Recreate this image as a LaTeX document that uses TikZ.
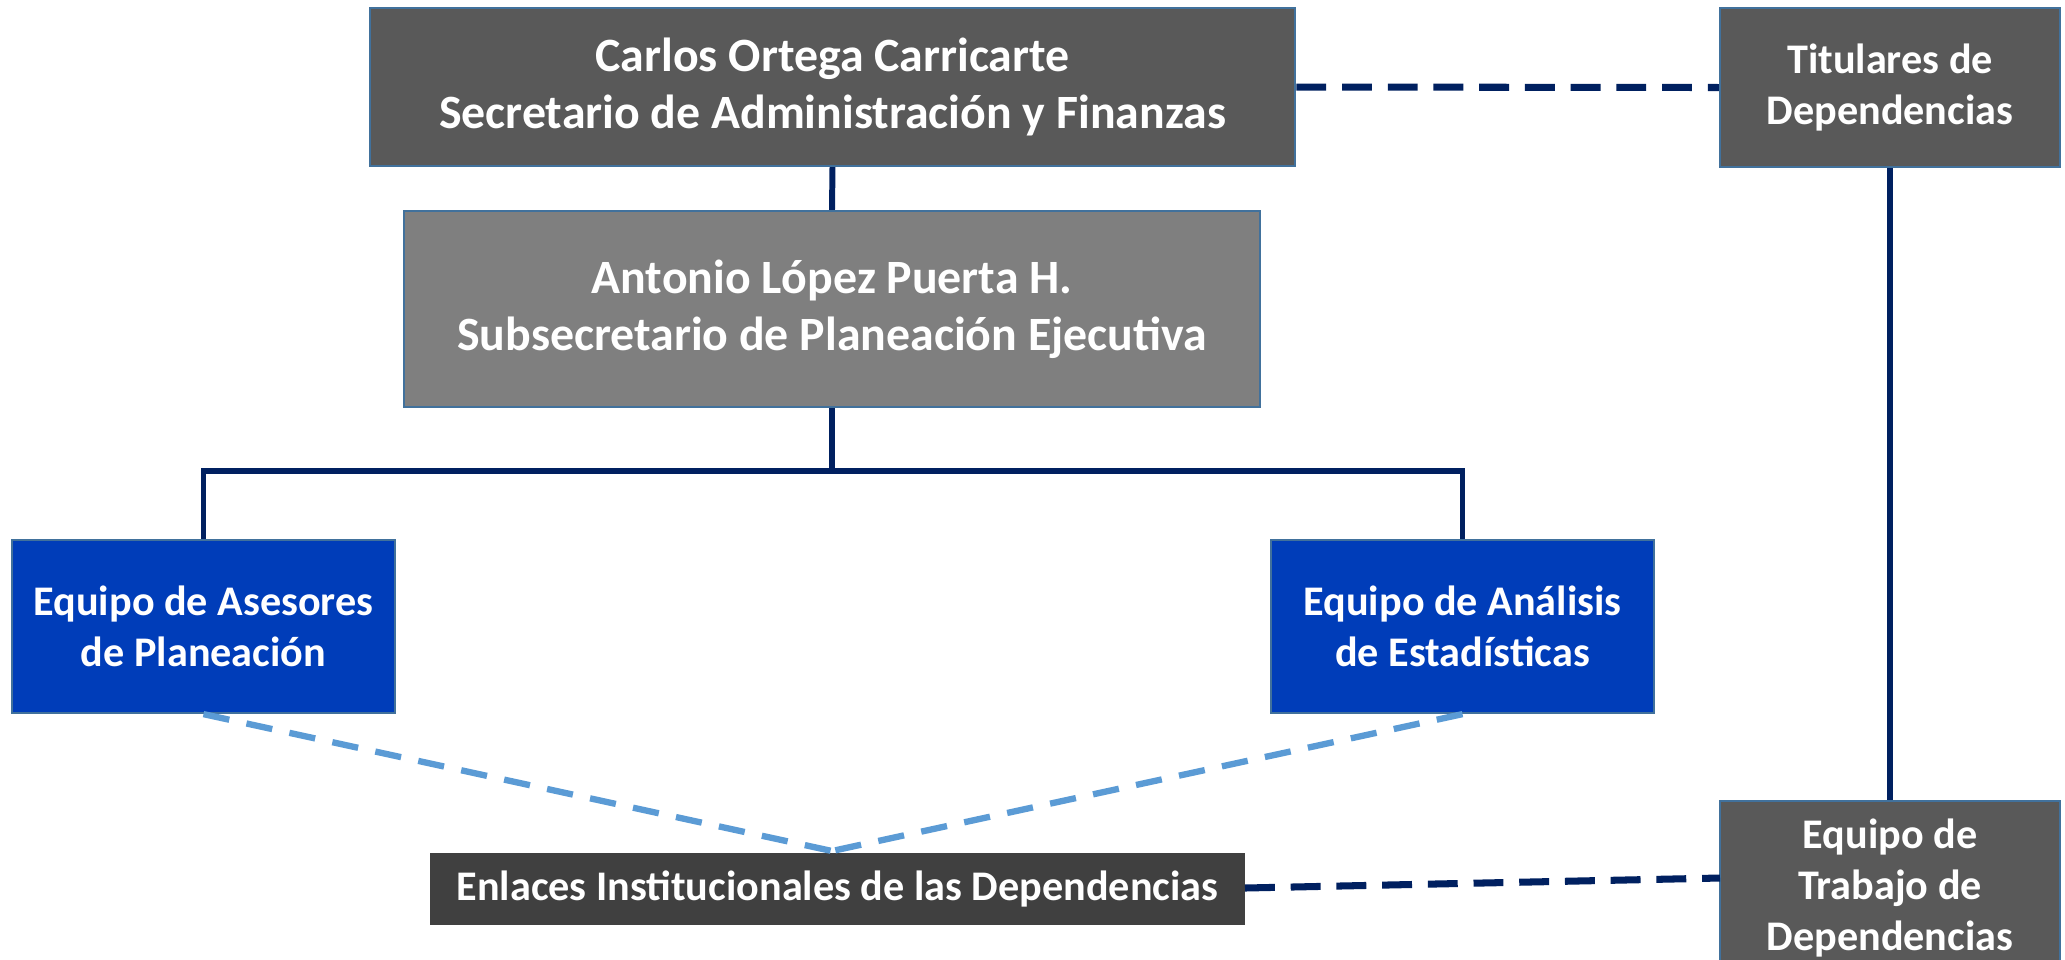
\documentclass[tikz,border=0pt]{standalone}
\usepackage{fontspec}
\setmainfont{Carlito}
\definecolor{darkbox}{HTML}{595959}
\definecolor{midbox}{HTML}{7F7F7F}
\definecolor{bluebox}{HTML}{003DB9}
\definecolor{enlbox}{HTML}{404040}
\definecolor{boxedge}{HTML}{41719C}
\definecolor{navy}{HTML}{002060}
\definecolor{lightblue}{HTML}{5B9BD5}
\tikzset{
  orgbox/.style={rectangle, draw=boxedge, line width=0.6pt, text=white, align=center, inner sep=0pt, font=\bfseries},
  bigtext/.style={font=\fontsize{13.6}{16.2}\selectfont\bfseries},
  smalltext/.style={font=\fontsize{12}{14.5}\selectfont\bfseries},
  solidlink/.style={draw=navy, line width=1.7pt},
  navydash/.style={draw=navy, line width=2pt, dash pattern=on 8.5pt off 4.5pt},
  bluedash/.style={draw=lightblue, line width=1.8pt, dash pattern=on 7.5pt off 5pt},
}
\begin{document}
\begin{tikzpicture}[x=0.01cm,y=-0.01cm]
\useasboundingbox (0,0) rectangle (2065,959);
\clip (0,0) rectangle (2065,959);
\node[orgbox, bigtext, fill=darkbox, minimum width=9.25cm, minimum height=1.58cm] (carlos) at (832.5,87) {Carlos Ortega Carricarte\\Secretario de Administración y Finanzas};
\node[orgbox, bigtext, fill=midbox, minimum width=8.56cm, minimum height=1.96cm] (antonio) at (832,309) {Antonio López Puerta H.\\Subsecretario de Planeación Ejecutiva};
\node[orgbox, smalltext, fill=bluebox, minimum width=3.83cm, minimum height=1.73cm] (asesores) at (203.5,626.5) {Equipo de Asesores\\de Planeación};
\node[orgbox, smalltext, fill=bluebox, minimum width=3.83cm, minimum height=1.73cm] (analisis) at (1462.5,626.5) {Equipo de Análisis\\de Estadísticas};
\node[orgbox, smalltext, fill=darkbox, minimum width=3.40cm, minimum height=1.59cm] (titulares) at (1890,87.5) {Titulares de\\Dependencias};
\node[orgbox, smalltext, fill=darkbox, minimum width=3.40cm, minimum height=1.74cm] (trabajo) at (1890,888) {Equipo de\\Trabajo de\\Dependencias};
\node[rectangle, fill=enlbox, text=white, smalltext, inner sep=0pt, minimum width=8.15cm, minimum height=0.72cm] (enlaces) at (837.5,889) {Enlaces Institucionales de las Dependencias};
\coordinate (bar) at (832,471);
\coordinate (meet) at (832,851);
\coordinate (trw) at (1720,878);
\coordinate (enle) at (1245,888);
\draw[solidlink] (carlos.south) -- (antonio.north);
\draw[solidlink] (antonio.south) -- (bar);
\draw[solidlink] (asesores.north) |- (bar) -| (analisis.north);
\draw[solidlink] (titulares.south) -- (trabajo.north);
\draw[navydash] (carlos.east) -- (titulares.west);
\draw[navydash] (enle) -- (trw);
\draw[bluedash] (asesores.south) -- (meet);
\draw[bluedash] (analisis.south) -- (meet);
\end{tikzpicture}
\end{document}
